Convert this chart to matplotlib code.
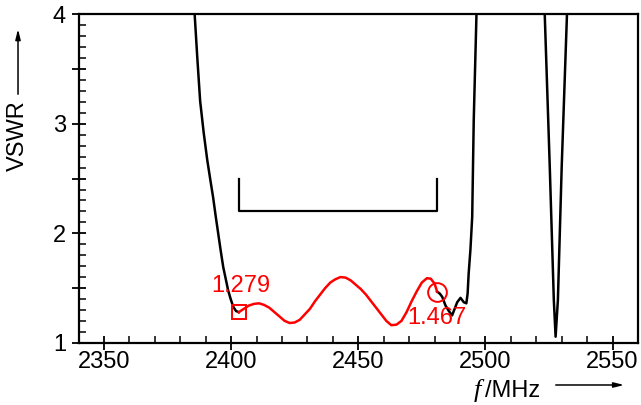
import numpy as np
import matplotlib
matplotlib.use('Agg')
import matplotlib.pyplot as plt
from matplotlib.patches import FancyArrowPatch
from matplotlib.ticker import MultipleLocator, FixedLocator, FixedFormatter

plt.rcParams['font.family'] = ['Liberation Sans', 'DejaVu Sans']

# --- data (frequency in MHz, VSWR) ---
left_f = [2385.6, 2386.7, 2387.8, 2389.2, 2390.6, 2391.8, 2392.9, 2393.9, 2394.9,
          2395.9, 2396.9, 2397.9, 2398.8, 2399.8, 2400.8, 2401.9, 2403.0]
left_v = [4.02, 3.60, 3.21, 2.92, 2.67, 2.49, 2.33, 2.16, 2.00,
          1.84, 1.69, 1.58, 1.48, 1.40, 1.33, 1.29, 1.279]

band_f = [2403.0, 2405.0, 2407.0, 2409.0, 2411.0, 2413.0, 2415.0, 2417.0, 2419.0,
          2421.0, 2423.0, 2425.0, 2427.0, 2429.0, 2431.0, 2433.0, 2435.0, 2437.0,
          2439.0, 2441.0, 2443.0, 2445.0, 2447.0, 2449.0, 2451.0, 2453.0, 2455.0,
          2457.0, 2459.0, 2461.0, 2463.0, 2465.0, 2467.0, 2469.0, 2471.0, 2473.0,
          2475.0, 2477.0, 2478.5, 2480.0, 2481.0]
band_v = [1.279, 1.31, 1.34, 1.355, 1.36, 1.345, 1.32, 1.28, 1.24,
          1.20, 1.18, 1.185, 1.21, 1.26, 1.31, 1.38, 1.44, 1.50,
          1.55, 1.58, 1.60, 1.595, 1.57, 1.53, 1.49, 1.44, 1.38,
          1.32, 1.26, 1.20, 1.16, 1.165, 1.20, 1.28, 1.38, 1.47,
          1.55, 1.59, 1.585, 1.54, 1.467]

right_f = [2481.0, 2482.0, 2483.0, 2484.3, 2485.6, 2486.9, 2487.9, 2488.9, 2490.2,
           2491.5, 2492.5, 2493.0, 2493.4, 2494.1, 2494.8, 2495.4, 2496.5]
right_v = [1.467, 1.45, 1.42, 1.34, 1.29, 1.25, 1.31, 1.37, 1.41,
           1.37, 1.36, 1.45, 1.63, 1.85, 2.15, 3.03, 4.02]

notch_f = [2523.3, 2525.3, 2526.9, 2527.6, 2528.5, 2530.0, 2532.1]
notch_v = [4.02, 2.61, 1.39, 1.055, 1.39, 2.61, 4.02]

band_edges = [2403.0, 2481.0]
bracket_v = [2.5, 2.2]

marker_f = [2403.0, 2481.0]
marker_v = [1.279, 1.467]
marker_text = ['1.279', '1.467']
text_pos = [(2403.9, 1.52), (2481.1, 1.226)]

fig = plt.figure(figsize=(6.41, 4.05), dpi=100)
ax = fig.add_axes([0.1226, 0.1538, 0.8727, 0.8104])

ax.plot(left_f, left_v, color='black', lw=1.8)
ax.plot(right_f, right_v, color='black', lw=1.8)
ax.plot(notch_f, notch_v, color='black', lw=1.8)
ax.plot(band_f, band_v, color='red', lw=1.8)

# band bracket
ax.plot([band_edges[0], band_edges[0], band_edges[1], band_edges[1]],
        [bracket_v[0], bracket_v[1], bracket_v[1], bracket_v[0]], color='black', lw=1.6)

# markers
ax.plot(marker_f[0], marker_v[0], marker='s', ms=9.5, mfc='none', mec='red', mew=1.4)
ax.plot(marker_f[1], marker_v[1], marker='o', ms=13.5, mfc='none', mec='red', mew=1.4)
for (tx, ty), s in zip(text_pos, marker_text):
    ax.text(tx, ty, s, color='red', fontsize=17, ha='center', va='center')

ax.set_xlim(2340, 2560)
ax.set_ylim(1, 4)

ax.xaxis.set_major_locator(MultipleLocator(50))
ax.xaxis.set_minor_locator(MultipleLocator(10))
ymaj = [1, 1.5, 2, 2.5, 3, 3.5, 4]
ax.yaxis.set_major_locator(FixedLocator(ymaj))
ax.yaxis.set_major_formatter(FixedFormatter(['1', '', '2', '', '3', '', '4']))
ax.yaxis.set_minor_locator(MultipleLocator(0.1))

ax.tick_params(which='major', direction='inout', length=10, width=1.3, labelsize=17)
ax.tick_params(which='minor', direction='in', length=5, width=1.1)
ax.tick_params(axis='x', which='major', pad=1)
ax.tick_params(axis='y', which='major', pad=4)
for sp in ax.spines.values():
    sp.set_linewidth(1.6)

# axis labels with arrows
fig.text(0.0273, 0.664, 'VSWR', rotation=90, fontsize=17, ha='center', va='center')
fig.patches.append(FancyArrowPatch(
    (0.0281, 0.7605), (0.0281, 0.935), transform=fig.transFigure,
    arrowstyle='-|>,head_length=6,head_width=1.5', lw=1.1, color='black'))

fig.text(0.744, 0.0198, 'f', fontsize=19, family='Liberation Serif', style='italic',
         ha='center', va='baseline')
fig.text(0.757, 0.0198, '/MHz', fontsize=17, ha='left', va='baseline')
fig.patches.append(FancyArrowPatch(
    (0.8627, 0.0494), (0.978, 0.0494), transform=fig.transFigure,
    arrowstyle='-|>,head_length=6,head_width=1.5', lw=1.1, color='black'))

fig.savefig('out.png', dpi=100, facecolor='white')
